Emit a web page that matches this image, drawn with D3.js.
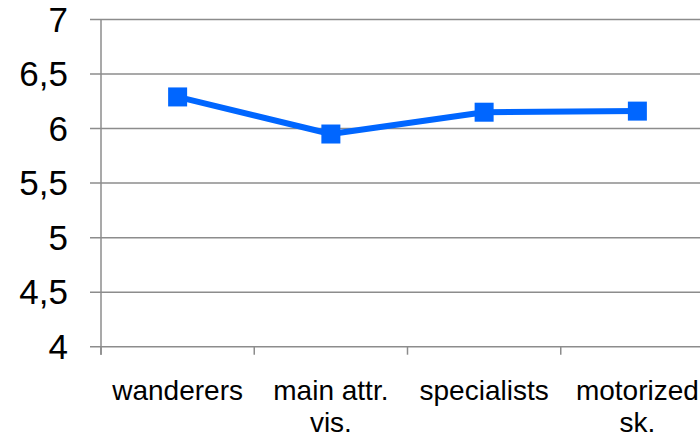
<!DOCTYPE html>
<html lang="en">
	<head>
		<meta charset="utf-8">
		<title>D3: line chart</title>
		<script type="text/javascript" src="https://cdn.jsdelivr.net/npm/d3@7"></script>
		<style type="text/css">
			body { margin: 0; background: #fff; }
			text { font-family: "Liberation Sans", Arial, sans-serif; fill: #000; }
		</style>
	</head>
	<body>
		<script type="text/javascript">

			//Data
			var categories = ["wanderers", "main attr. vis.", "specialists", "motorized sk."];
			var labelLines = [["wanderers"], ["main attr.", "vis."], ["specialists"], ["motorized", "sk."]];
			var values = [6.29, 5.95, 6.15, 6.16];
			var yTicks = [4, 4.5, 5, 5.5, 6, 6.5, 7];
			var yTickLabels = ["4", "4,5", "5", "5,5", "6", "6,5", "7"];

			//Width and height
			var w = 700;
			var h = 437;
			var plotLeft = 101, plotTop = 19.5, plotRight = 714, plotBottom = 346.7;

			var svg = d3.select("body")
						.append("svg")
						.attr("width", w)
						.attr("height", h);

			var xScale = d3.scaleBand()
						   .domain(categories)
						   .range([plotLeft, plotRight]);

			var yScale = d3.scaleLinear()
						   .domain([4, 7])
						   .range([plotBottom, plotTop]);

			//horizontal grid lines
			svg.selectAll("line.grid")
			   .data(yTicks)
			   .enter()
			   .append("line")
			   .attr("class", "grid")
			   .attr("x1", plotLeft - 11)
			   .attr("x2", plotRight)
			   .attr("y1", function(d) { return yScale(d); })
			   .attr("y2", function(d) { return yScale(d); })
			   .attr("stroke", "#8c8c8c")
			   .attr("stroke-width", 1.5);

			//y axis line
			svg.append("line")
			   .attr("x1", plotLeft).attr("x2", plotLeft)
			   .attr("y1", plotTop).attr("y2", plotBottom + 8)
			   .attr("stroke", "#8c8c8c")
			   .attr("stroke-width", 1.5);

			//x ticks at band edges
			var edges = categories.map(function(d) { return xScale(d); });
			edges.push(plotRight);
			svg.selectAll("line.xtick")
			   .data(edges)
			   .enter()
			   .append("line")
			   .attr("class", "xtick")
			   .attr("x1", function(d) { return d; })
			   .attr("x2", function(d) { return d; })
			   .attr("y1", plotBottom)
			   .attr("y2", plotBottom + 8)
			   .attr("stroke", "#8c8c8c")
			   .attr("stroke-width", 1.5);

			//y labels
			svg.selectAll("text.ylab")
			   .data(yTicks)
			   .enter()
			   .append("text")
			   .attr("class", "ylab")
			   .attr("x", 68)
			   .attr("y", function(d) { return yScale(d) + 12; })
			   .attr("text-anchor", "end")
			   .attr("font-size", "35px")
			   .text(function(d, i) { return yTickLabels[i]; });

			//x labels
			var xl = svg.selectAll("text.xlab")
			   .data(categories)
			   .enter()
			   .append("text")
			   .attr("class", "xlab")
			   .attr("text-anchor", "middle")
			   .attr("font-size", "28px");

			xl.selectAll("tspan")
			  .data(function(d, i) {
				  return labelLines[i].map(function(t) { return { cat: d, t: t }; });
			  })
			  .enter()
			  .append("tspan")
			  .attr("x", function(d) { return xScale(d.cat) + xScale.bandwidth() / 2; })
			  .attr("y", function(d, j) { return 400 + j * 32; })
			  .text(function(d) { return d.t; });

			//line
			var line = d3.line()
						 .x(function(d, i) { return xScale(categories[i]) + xScale.bandwidth() / 2; })
						 .y(function(d) { return yScale(d); });

			svg.append("path")
			   .datum(values)
			   .attr("d", line)
			   .attr("fill", "none")
			   .attr("stroke", "#0066ff")
			   .attr("stroke-width", 6)
			   .attr("stroke-linejoin", "round");

			//markers
			var ms = 19;
			svg.selectAll("rect.marker")
			   .data(values)
			   .enter()
			   .append("rect")
			   .attr("class", "marker")
			   .attr("x", function(d, i) { return xScale(categories[i]) + xScale.bandwidth() / 2 - ms / 2; })
			   .attr("y", function(d) { return yScale(d) - ms / 2; })
			   .attr("width", ms)
			   .attr("height", ms)
			   .attr("fill", "#0066ff");

		</script>
	</body>
</html>
